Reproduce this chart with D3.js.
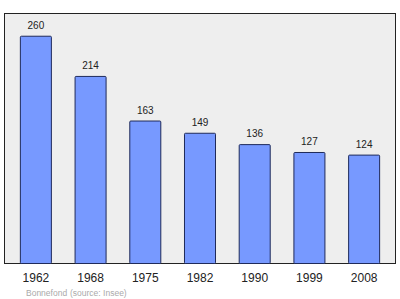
<!DOCTYPE html>
<html>
<head>
<meta charset="utf-8">
<script src="https://cdn.jsdelivr.net/npm/d3@7"></script>
<style>
  body { margin: 0; background: #fff; }
  text { font-family: "Liberation Sans", Arial, sans-serif; }
</style>
</head>
<body>
<svg id="chart" width="400" height="299"></svg>
<script>
// population by census year
const years = ["1962", "1968", "1975", "1982", "1990", "1999", "2008"];
const population = [260, 214, 163, 149, 136, 127, 124];

const svg = d3.select("#chart");

const frame = { left: 4.5, top: 13.5, right: 395.5, bottom: 263.5 };

// x scale: one band per census
const x = d3
  .scaleBand()
  .domain(years)
  .range([frame.left, frame.right])
  .paddingInner(0.433)
  .paddingOuter(0.29);

// y scale
const y = d3
  .scaleLinear()
  .domain([0, 286])
  .range([frame.bottom, frame.top]);

// plot background
svg
  .append("rect")
  .attr("x", frame.left)
  .attr("y", frame.top)
  .attr("width", frame.right - frame.left)
  .attr("height", frame.bottom - frame.top)
  .attr("fill", "#eeeeee")
  .attr("stroke", "#222")
  .attr("stroke-width", 1);

// bars
svg
  .append("g")
  .selectAll("rect")
  .data(population)
  .enter()
  .append("rect")
  .attr("x", (d, i) => x(years[i]))
  .attr("y", (d) => y(d))
  .attr("width", x.bandwidth())
  .attr("height", (d) => y(0) - y(d))
  .attr("rx", 1)
  .attr("fill", "#7799ff")
  .attr("stroke", "#1f2a5a")
  .attr("stroke-width", 1);

// value labels
svg
  .append("g")
  .selectAll("text")
  .data(population)
  .enter()
  .append("text")
  .attr("x", (d, i) => x(years[i]) + x.bandwidth() / 2)
  .attr("y", (d) => y(d) - 7.5)
  .attr("text-anchor", "middle")
  .attr("font-size", 10)
  .attr("fill", "#222")
  .text((d) => d);

// year labels
const xAxis = svg
  .append("g")
  .attr("transform", "translate(0," + frame.bottom + ")")
  .call(d3.axisBottom(x).tickSize(0).tickPadding(10));
xAxis.select(".domain").remove();
xAxis
  .selectAll("text")
  .attr("font-size", 12)
  .attr("fill", "#222")
  .attr("font-family", null);

// source note
svg
  .append("text")
  .attr("x", 26)
  .attr("y", 296)
  .attr("font-size", 8.5)
  .attr("fill", "#aaa")
  .text("Bonnefond");
svg
  .append("text")
  .attr("x", 70)
  .attr("y", 296)
  .attr("font-size", 8.5)
  .attr("fill", "#aaa")
  .text("(source: Insee)");
</script>
</body>
</html>
